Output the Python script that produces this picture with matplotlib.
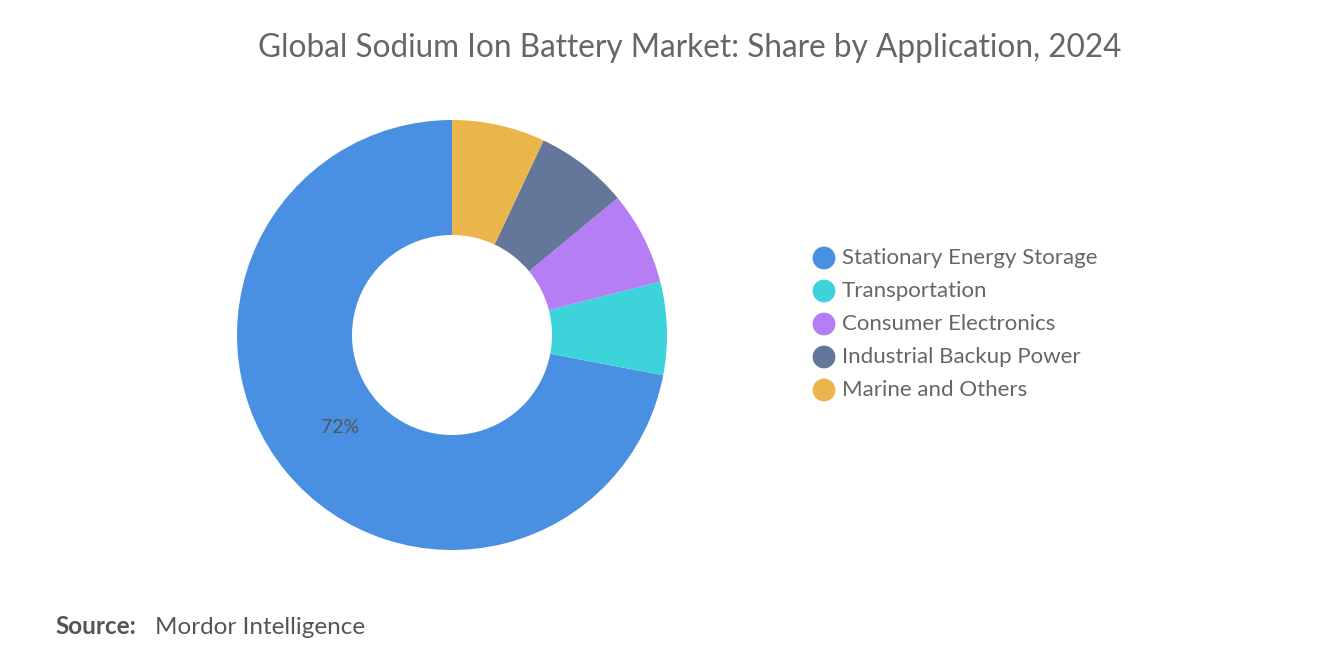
import matplotlib.pyplot as plt

categories = ["Stationary Energy Storage", "Transportation", "Consumer Electronics",
              "Industrial Backup Power", "Marine and Others"]
shares = [72, 7, 7, 7, 7]
colors = ["#4A90E2", "#3DD3DB", "#B57EF5", "#64779A", "#EAB54B"]

fig = plt.figure(figsize=(13.2, 6.65), dpi=100)
fig.patch.set_facecolor("white")

# donut: centre ~ (452, 335) px, outer radius ~215 px
ax = fig.add_axes([(452 - 215) / 1320, 1 - (335 + 215) / 665, 430 / 1320, 430 / 665])
wedges, _ = ax.pie(shares, colors=colors, startangle=90, counterclock=True,
                   radius=1.0, wedgeprops=dict(width=1 - 100 / 215, linewidth=0))
ax.set_xlim(-1, 1)
ax.set_ylim(-1, 1)
ax.set_aspect("equal")
ax.text(-0.52, -0.43, f"{shares[0]}%", ha="center", va="center", fontsize=14,
        color="#555555", family="Lato")

fig.text(690 / 1320, 1 - 48 / 665, "Global Sodium Ion Battery Market: Share by Application, 2024",
         ha="center", va="center", fontsize=22.7, color="#666666", family="Lato")

# legend
lax = fig.add_axes([0, 0, 1, 1], facecolor="none")
lax.set_xlim(0, 1320)
lax.set_ylim(665, 0)
lax.axis("off")
for i, (cat, col) in enumerate(zip(categories, colors)):
    y = 258 + i * 33
    lax.scatter([824], [y], s=270, color=col, edgecolors="none")
    lax.text(842, y, cat, ha="left", va="center", fontsize=16,
             color="#666666", family="Lato")

lax.text(55, 627, "Source:", ha="left", va="center", fontsize=17.5,
         color="#555555", family="Lato", fontweight="bold")
lax.text(155, 627, "Mordor Intelligence", ha="left", va="center",
         fontsize=17.5, color="#555555", family="Lato")

fig.savefig("out.png", dpi=100, facecolor="white")
